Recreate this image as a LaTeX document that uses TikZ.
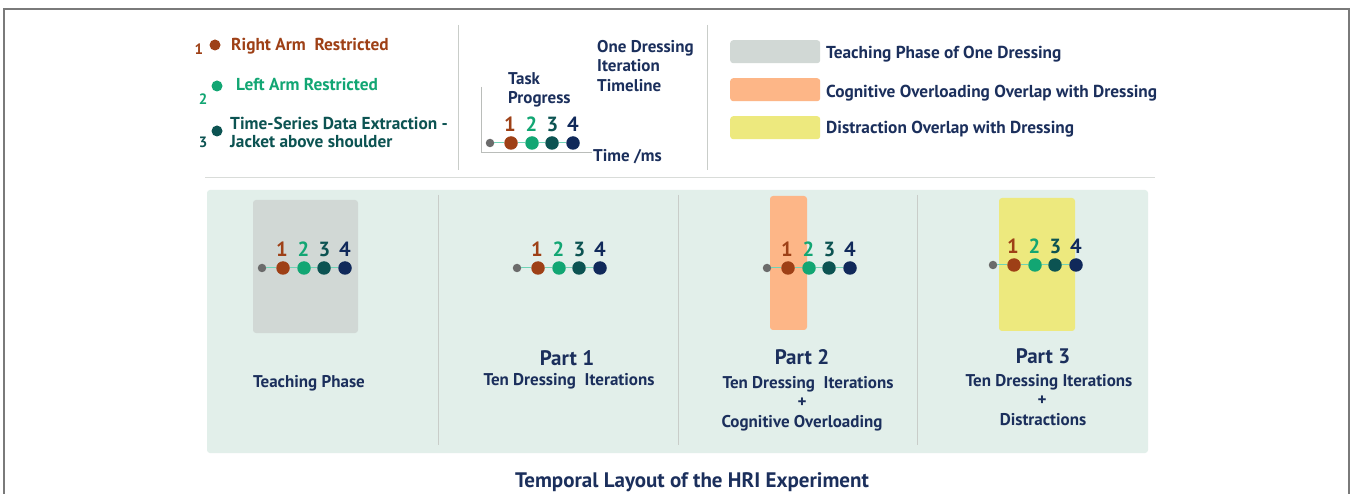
\documentclass[tikz,border=0pt]{standalone}
\usepackage{fontspec}
\setmainfont{PT Sans}
\definecolor{cbrown}{HTML}{9E4016}
\definecolor{cgreen}{HTML}{12A673}
\definecolor{cteal}{HTML}{0C5352}
\definecolor{cnavy}{HTML}{10295A}
\definecolor{ctext}{HTML}{1B2F5C}
\definecolor{cgraydot}{HTML}{6B6B6B}
\definecolor{clink}{HTML}{6FD3B6}
\definecolor{cpanel}{HTML}{E2EFEA}
\definecolor{cteach}{HTML}{D1D8D5}
\definecolor{corange}{HTML}{FDB687}
\definecolor{cyellow}{HTML}{EDE97E}
\definecolor{crule}{HTML}{C9CDC9}
\definecolor{cframe}{HTML}{7A7A7A}
\tikzset{
  lbl/.style={font=\bfseries\fontsize{17.3}{19}\selectfont, inner sep=0pt, anchor=west},
  sub/.style={font=\bfseries\fontsize{17}{19}\selectfont, inner sep=0pt, text=ctext},
  parttitle/.style={font=\bfseries\fontsize{21}{23}\selectfont, inner sep=0pt, text=ctext},
  num/.style={font=\bfseries\fontsize{20.5}{21}\selectfont, inner sep=0pt},
  keynum/.style={font=\bfseries\fontsize{15}{16}\selectfont, inner sep=0pt},
  bigdot/.style={circle, inner sep=0pt, minimum size=13.5pt},
  keydot/.style={circle, inner sep=0pt, minimum size=11pt},
  smalldot/.style={circle, inner sep=0pt, minimum size=8.5pt, fill=cgraydot},
  link/.style={draw=clink, line width=1pt},
  swatch/.style={rounded corners=3pt, inner sep=0pt, anchor=north west},
  divider/.style={draw=crule, line width=1pt},
}
% one dressing timeline: start dot, four numbered steps
\newcommand{\dressline}[3]{%
  \node[smalldot] (#1g) at (#2,#3) {};
  \node[bigdot, fill=cbrown] (#11) at (#2+21,#3) {};
  \node[bigdot, fill=cgreen] (#12) at (#2+42,#3) {};
  \node[bigdot, fill=cteal]  (#13) at (#2+62,#3) {};
  \node[bigdot, fill=cnavy]  (#14) at (#2+83,#3) {};
  \draw[link] (#1g) -- (#11) -- (#12) -- (#13) -- (#14);
  \node[num, text=cbrown] (#1n1) at (#2+20,#3-19) {1};
  \node[num, text=cgreen] (#1n2) at (#2+41.5,#3-19) {2};
  \node[num, text=cteal]  (#1n3) at (#2+62.5,#3-19) {3};
  \node[num, text=cnavy]  (#1n4) at (#2+83,#3-19) {4};
}
\begin{document}
\begin{tikzpicture}[x=1pt, y=-1pt]
\useasboundingbox (0,0) rectangle (1352,494);
\fill[white] (0,0) rectangle (1352,494);
% outer frame, open at the bottom
\draw[cframe, line width=1.8pt] (4,494) -- (4,9) -- (1349,9) -- (1349,494);

% ---------- legend: dressing steps ----------
\node[keynum, text=cbrown] (k1n) at (199,49) {1};
\node[keydot, fill=cbrown] (k1d) at (215,45) {};
\node[lbl, text=cbrown] (k1t) at (231,46) {Right Arm\ \ Restricted};
\node[keynum, text=cgreen] (k2n) at (203,99) {2};
\node[keydot, fill=cgreen] (k2d) at (217,86) {};
\node[lbl, text=cgreen] (k2t) at (236,84) {Left Arm Restricted};
\node[keynum, text=cteal] (k3n) at (203,142) {3};
\node[keydot, fill=cteal] (k3d) at (217,131) {};
\node[lbl, text=cteal] (k3t) at (230,123) {Time-Series Data Extraction -};
\node[lbl, text=cteal] (k3u) at (230,142) {Jacket above shoulder};

\draw[divider] (458,25) -- (458,170);

% ---------- legend: one iteration timeline ----------
\coordinate (axtop) at (481,87);
\coordinate (axorg) at (481,153);
\coordinate (axend) at (592,153);
\draw[crule!80!gray, line width=1pt] (axtop) -- (axorg) -- (axend);
\dressline{lg}{490}{143}
\node[sub, align=left, anchor=west, font=\bfseries\fontsize{17}{19}\selectfont] (tp) at (508,90) {Task\\Progress};
\node[sub, align=left, anchor=north west, font=\bfseries\fontsize{17}{19.5}\selectfont] (odt) at (597,40) {One Dressing\\Iteration\\Timeline};
\node[sub, anchor=west] (tms) at (593,157) {Time /ms};

\draw[divider] (707,25) -- (707,170);

% ---------- legend: overlap colours ----------
\node[swatch, fill=cteach, minimum width=90pt, minimum height=23pt] (s1) at (730,40) {};
\node[swatch, fill=corange, minimum width=90pt, minimum height=23pt] (s2) at (730,78) {};
\node[swatch, fill=cyellow, minimum width=90pt, minimum height=23pt] (s3) at (730,116) {};
\node[lbl, text=ctext] (s1t) at (826,54) {Teaching Phase of One Dressing};
\node[lbl, text=ctext] (s2t) at (826,93) {Cognitive Overloading Overlap with Dressing};
\node[lbl, text=ctext] (s3t) at (826,129) {Distraction Overlap with Dressing};

\draw[divider, draw=crule!70] (205,178) -- (1155,178);

% ---------- experiment panel ----------
\fill[cpanel, rounded corners=3pt] (207,190) rectangle (1148,453);
\draw[divider] (438,195) -- (438,445);
\draw[divider] (678,195) -- (678,445);
\draw[divider] (917,195) -- (917,445);

% teaching phase
\fill[cteach, rounded corners=3pt] (253,200) rectangle (358,333);
\dressline{tp}{262}{268}
\node[sub] (tpl) at (309,383) {Teaching Phase};

% part 1
\dressline{pa}{517}{268}
\node[parttitle] (pat) at (567,358) {Part 1};
\node[sub] (pas) at (569,381) {Ten Dressing\ \ Iterations};

% part 2
\fill[corange, rounded corners=3pt] (770,196) rectangle (807,330);
\dressline{pb}{767}{268}
\node[parttitle] (pbt) at (802,357) {Part 2};
\node[sub] (pbs) at (808,384) {Ten Dressing\ \ Iterations};
\node[sub] (pbp) at (802,403) {+};
\node[sub] (pbc) at (802,423) {Cognitive Overloading};

% part 3
\fill[cyellow, rounded corners=3pt] (999,198) rectangle (1075,331);
\dressline{pc}{993}{265}
\node[parttitle] (pct) at (1043,356) {Part 3};
\node[sub] (pcs) at (1049,382) {Ten Dressing Iterations};
\node[sub] (pcp) at (1042,401) {+};
\node[sub] (pcd) at (1043,420) {Distractions};

% caption
\node[font=\bfseries\fontsize{21}{23}\selectfont, text=ctext, inner sep=0pt] (cap) at (692,482) {Temporal Layout of the HRI Experiment};
\end{tikzpicture}
\end{document}
